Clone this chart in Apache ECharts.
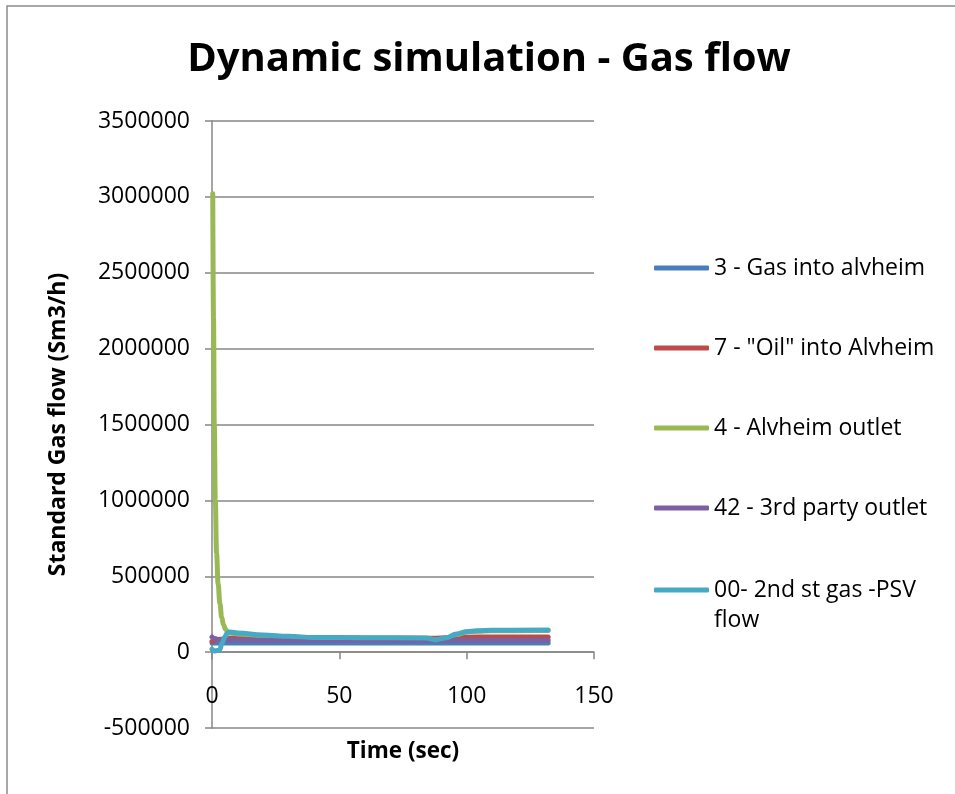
<!DOCTYPE html>
<html>
<head>
<meta charset="utf-8">
<title>Dynamic simulation - Gas flow</title>
<script src="https://cdn.jsdelivr.net/npm/echarts@6/dist/echarts.min.js"></script>
<style>
  html, body { margin: 0; padding: 0; background: #ffffff; }
  #chart { width: 955px; height: 794px; }
</style>
</head>
<body>
<div id="chart"></div>
<script>
// Series names as shown in the legend
const seriesNames = [
  '3 - Gas into alvheim',
  '7 - "Oil" into Alvheim',
  '4 - Alvheim outlet',
  '42 - 3rd party outlet',
  '00- 2nd st gas -PSV flow'
];

// Time samples (sec) and standard gas flow (Sm3/h) per stream
const gasIntoTime   = [0, 10, 40, 80, 110, 132];
const gasIntoFlow   = [60000, 60000, 60000, 60000, 60000, 60000];

const oilIntoTime   = [0, 3, 8, 40, 88, 96, 104, 132];
const oilIntoFlow   = [70000, 85000, 92000, 92000, 92000, 97000, 100000, 100000];

const outletTime    = [0.3, 0.6, 0.9, 1.3, 1.8, 2.4, 3.1, 3.8, 4.5, 5.3, 6.3, 7.5, 10, 20, 30, 40, 60, 84, 88, 92, 96, 100, 104, 110, 132];
const outletFlow    = [3020000, 2200000, 1500000, 1000000, 650000, 450000, 320000, 230000, 180000, 150000, 128000, 124000, 120000, 108000, 100000, 94000, 92000, 90000, 80000, 92000, 116000, 132000, 138000, 141000, 142000];

const thirdPartyTime = [0, 1, 3, 20, 60, 132];
const thirdPartyFlow = [100000, 90000, 80000, 79000, 78000, 78000];

const psvTime       = [0, 1, 2, 3, 4, 5, 6, 7, 10, 20, 30, 40, 60, 84, 88, 92, 96, 100, 104, 110, 132];
const psvFlow       = [20000, 8000, 10000, 15000, 60000, 100000, 125000, 132000, 126000, 113000, 104000, 97000, 95000, 93000, 82000, 95000, 120000, 135000, 141000, 144000, 145000];

// Axis ranges and tick spacing
const timeMin = 0, timeMax = 150, timeStep = 50;
const flowMin = -500000, flowMax = 3500000, flowStep = 500000;

const seriesColors = ['#4A7EBB', '#BE4B48', '#98B954', '#7D60A0', '#46AAC5'];
const seriesTimes = [gasIntoTime, oilIntoTime, outletTime, thirdPartyTime, psvTime];
const seriesFlows = [gasIntoFlow, oilIntoFlow, outletFlow, thirdPartyFlow, psvFlow];

const textFont = '"Open Sans", "Liberation Sans", sans-serif';
const axisGray = '#878787';

const chart = echarts.init(document.getElementById('chart'), null, { renderer: 'canvas' });

const series = seriesNames.map((name, i) => ({
  name: name,
  type: 'line',
  smooth: 0.4,
  smoothMonotone: 'x',
  showSymbol: false,
  symbol: 'none',
  z: 2 + i,
  lineStyle: { color: seriesColors[i], width: 5, cap: 'round', join: 'round' },
  itemStyle: { color: seriesColors[i] },
  data: seriesTimes[i].map((t, k) => [t, seriesFlows[i][k]])
}));

const legendText = { color: '#000000', fontFamily: textFont, fontSize: 23, lineHeight: 24 };

chart.setOption({
  animation: false,
  backgroundColor: '#ffffff',
  title: {
    text: 'Dynamic simulation - Gas flow',
    left: 489,
    top: 40,
    textAlign: 'center',
    padding: 0,
    textStyle: { fontFamily: textFont, fontWeight: 'bold', fontSize: 40, color: '#000000' }
  },
  legend: [
    {
      orient: 'vertical',
      left: 654,
      top: 256,
      padding: 0,
      itemGap: 56,
      itemWidth: 55,
      itemHeight: 5,
      icon: 'roundRect',
      data: seriesNames.slice(0, 4),
      textStyle: legendText
    },
    {
      orient: 'vertical',
      left: 654,
      top: 545,
      padding: 0,
      itemWidth: 55,
      itemHeight: 5,
      icon: 'roundRect',
      data: seriesNames.slice(4),
      formatter: () => ' \n00- 2nd st gas -PSV\nflow',
      textStyle: { color: '#000000', fontFamily: textFont, fontSize: 23, lineHeight: 30 }
    }
  ],
  grid: { left: 212, right: 361, top: 121, bottom: 66, containLabel: false, outerBoundsMode: 'none' },
  xAxis: {
    type: 'value',
    min: timeMin,
    max: timeMax,
    interval: timeStep,
    name: 'Time (sec)',
    nameLocation: 'middle',
    nameGap: 12,
    nameTextStyle: { fontFamily: textFont, fontWeight: 'bold', fontSize: 22.5, color: '#000000' },
    axisLine: { onZero: true, lineStyle: { color: axisGray, width: 1.5 } },
    axisTick: { show: true, length: 7, lineStyle: { color: axisGray, width: 1.5 } },
    // labels sit just under the zero line, inside the plot's lower band
    axisLabel: { margin: -43, fontFamily: textFont, fontSize: 23, color: '#000000' },
    splitLine: { show: false }
  },
  yAxis: {
    type: 'value',
    min: flowMin,
    max: flowMax,
    interval: flowStep,
    name: 'Standard Gas flow (Sm3/h)',
    nameLocation: 'middle',
    nameGap: 142,
    nameTextStyle: { fontFamily: textFont, fontWeight: 'bold', fontSize: 23, color: '#000000' },
    axisLine: { show: true, onZero: false, lineStyle: { color: axisGray, width: 1.5 } },
    axisTick: { show: true, length: 7, lineStyle: { color: axisGray, width: 1.5 } },
    axisLabel: { margin: 22, fontFamily: textFont, fontSize: 23, color: '#000000', formatter: v => String(v) },
    splitLine: { show: true, lineStyle: { color: axisGray, width: 1.5 } }
  },
  graphic: [
    {
      type: 'polyline',
      silent: true,
      shape: { points: [[7, 800], [7, 6], [960, 6]] },
      style: { stroke: '#8c8c8c', lineWidth: 1.5, fill: null }
    }
  ],
  series: series
});
</script>
</body>
</html>
